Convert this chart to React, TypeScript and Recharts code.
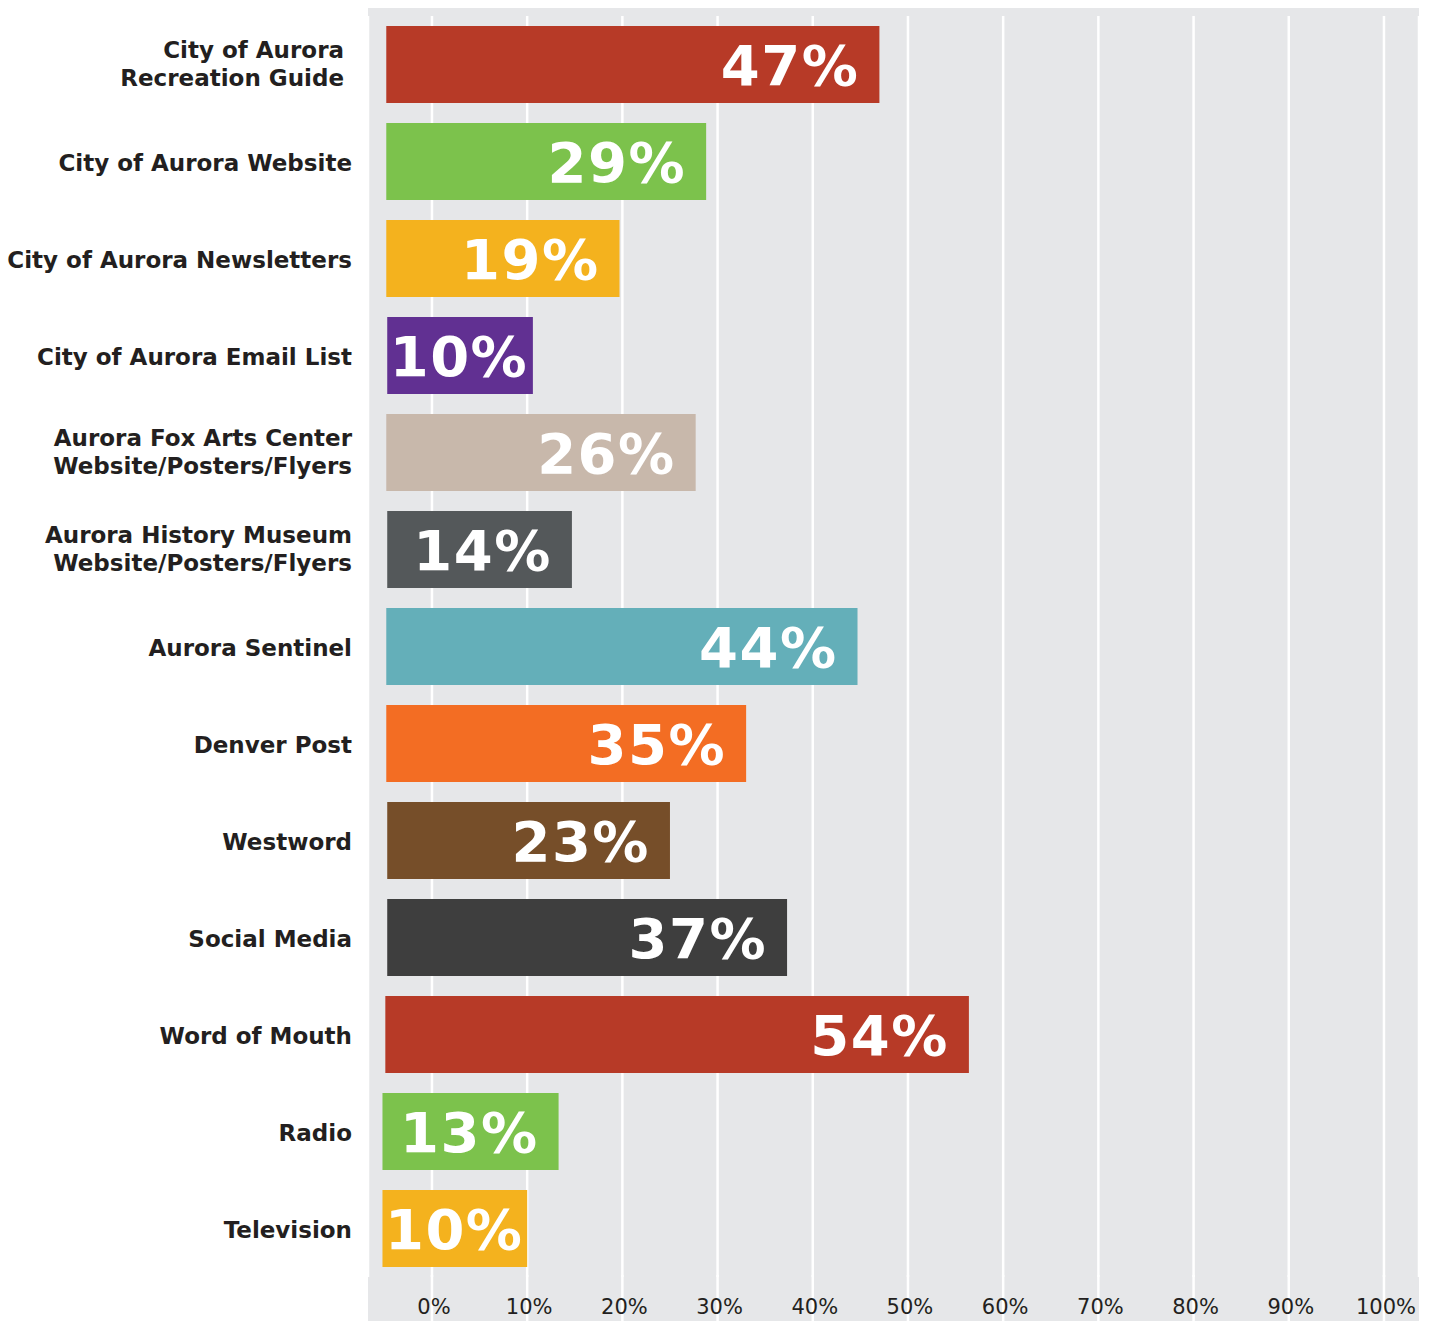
import { Bar, BarChart, CartesianGrid, Cell, LabelList, XAxis, YAxis } from "recharts";

const CATEGORIES = [
  "City of Aurora \nRecreation Guide ",
  "City of Aurora Website",
  "City of Aurora Newsletters",
  "City of Aurora Email List",
  "Aurora Fox Arts Center\nWebsite/Posters/Flyers",
  "Aurora History Museum\nWebsite/Posters/Flyers",
  "Aurora Sentinel",
  "Denver Post",
  "Westword",
  "Social Media",
  "Word of Mouth",
  "Radio",
  "Television"
];

// printed shares
const SHARES = [47, 29, 19, 10, 26, 14, 44, 35, 23, 37, 54, 13, 10];

// where each bar starts and ends, read against the 0-100% grid
const BAR_START = [-4.8, -4.8, -4.8, -4.7, -4.8, -4.7, -4.8, -4.8, -4.7, -4.7, -4.9, -5.2, -5.2];
const BAR_END = [47.0, 28.8, 19.7, 10.6, 27.7, 14.7, 44.7, 33.0, 25.0, 37.3, 56.4, 13.3, 10.0];

const X_TICKS = [0, 10, 20, 30, 40, 50, 60, 70, 80, 90, 100];

const BAR_COLORS = [
  "#b73a27", "#7cc24c", "#f4b21e", "#613092", "#c8b8ab", "#54585a", "#64afb9",
  "#f36d23", "#764e29", "#3e3e3e", "#b73a27", "#7cc24c", "#f4b21e"
];

const TEXT_COLOR = "#231f20";
const GRID_COLOR = "#ffffff";

const data = CATEGORIES.map((name, i) => ({
  name,
  range: [BAR_START[i], BAR_END[i]],
  label: `${SHARES[i]}%`
}));

function NameTick(props: any) {
  const { x, y, payload } = props;
  const lines = String(payload.value).split("\n");
  const first = y + 9 - (lines.length - 1) * 16;
  return (
    <text
      x={x}
      y={first}
      textAnchor="end"
      fill={TEXT_COLOR}
      fontFamily="DejaVu Sans"
      fontWeight="bold"
      fontSize={23}
      style={{ whiteSpace: "pre" }}
    >
      {lines.map((line, i) => (
        <tspan key={i} x={x} dy={i === 0 ? 0 : 28}>
          {line}
        </tspan>
      ))}
    </text>
  );
}

function PercentTick(props: any) {
  const { x, y, payload } = props;
  return (
    <g>
      <line x1={x} x2={x} y1={y - 2} y2={y + 46} stroke={GRID_COLOR} strokeWidth={2.5} />
      <text
        x={x + 2}
        y={y + 37}
        textAnchor="middle"
        fill={TEXT_COLOR}
        fontFamily="DejaVu Sans"
        fontSize={21}
      >
        {payload.value}%
      </text>
    </g>
  );
}

// value label hugs the bar end, but never spills past the bar start
function renderShare(props: any) {
  const { x, y, width, height, value } = props;
  const textWidth = 136;
  const right = Math.max(x + width - 20, x + 5 + textWidth);
  return (
    <text
      x={right}
      y={y + height / 2 + 20}
      textAnchor="end"
      fill="#ffffff"
      fontFamily="DejaVu Sans"
      fontWeight="bold"
      fontSize={56}
      letterSpacing={1.5}
    >
      {value}
    </text>
  );
}

export default function App() {
  return (
    <div style={{ position: "absolute", left: 0, top: 0, width: 1434, height: 1321 }}>
      <div
        style={{
          position: "absolute",
          left: 368,
          top: 8,
          width: 1051,
          height: 1313,
          background: "#e6e7e9"
        }}
      />
      <div style={{ position: "absolute", left: 0, top: 0 }}>
        <BarChart
          layout="vertical"
          width={1434}
          height={1321}
          data={data}
          margin={{ top: 16, right: 15, bottom: 0, left: 0 }}
          barSize={77}
        >
          <CartesianGrid horizontal={false} stroke={GRID_COLOR} strokeWidth={2.5} />
          <XAxis
            type="number"
            domain={[-6.72, 103.68]}
            ticks={X_TICKS}
            allowDataOverflow
            interval={0}
            axisLine={false}
            tickLine={false}
            tickSize={0}
            tickMargin={0}
            height={44}
            tick={(p: any) => <PercentTick {...p} />}
          />
          <YAxis
            type="category"
            dataKey="name"
            width={368}
            interval={0}
            axisLine={false}
            tickLine={false}
            tickSize={0}
            tickMargin={16}
            tick={(p: any) => <NameTick {...p} />}
          />
          <Bar dataKey="range" isAnimationActive={false}>
            {data.map((d, i) => (
              <Cell key={d.name} fill={BAR_COLORS[i]} />
            ))}
            <LabelList dataKey="label" content={renderShare} />
          </Bar>
        </BarChart>
      </div>
    </div>
  );
}
